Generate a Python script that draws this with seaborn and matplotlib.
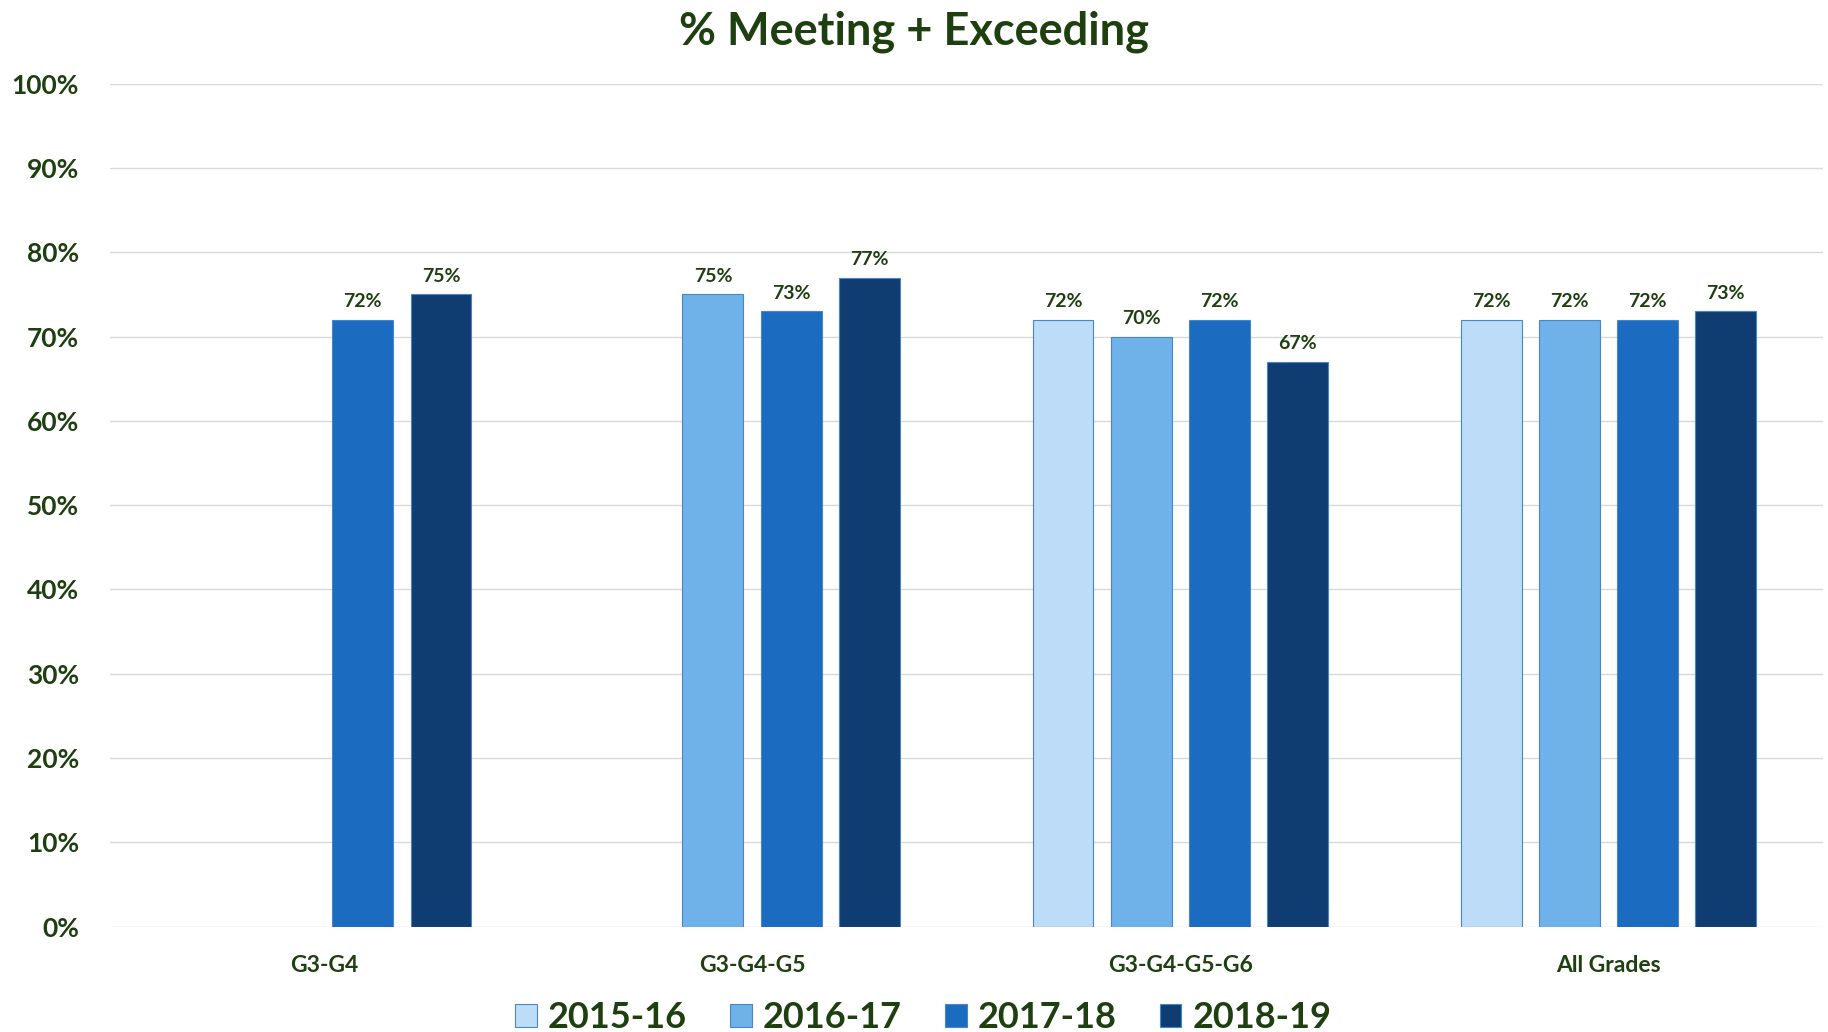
import numpy as np
import pandas as pd
import matplotlib
matplotlib.use('Agg')
import matplotlib.pyplot as plt
import seaborn as sb

# Chart values
groups = ['G3-G4', 'G3-G4-G5', 'G3-G4-G5-G6', 'All Grades']
years = ['2015-16', '2016-17', '2017-18', '2018-19']
pct_2015_16 = [np.nan, np.nan, 72, 72]
pct_2016_17 = [np.nan, 75, 70, 72]
pct_2017_18 = [72, 73, 72, 72]
pct_2018_19 = [75, 77, 67, 73]

year_colors = ['#bcdcf7', '#6fb2ea', '#1b6cc0', '#0f3d72']
green = '#1e3f10'

# Long table for seaborn
df = pd.DataFrame({'group': groups * 4,
                   'year': np.repeat(years, 4),
                   'pct': pct_2015_16 + pct_2016_17 + pct_2017_18 + pct_2018_19})

sb.set_style('white')
plt.rcParams['font.family'] = ['Lato', 'DejaVu Sans']

fig = plt.figure(figsize=(18.28, 10.32), dpi=100)
ax = fig.add_axes([0.060, 0.102, 0.937, 0.817])

sb.barplot(data=df, x='group', y='pct', hue='year', order=groups, hue_order=years,
           palette=year_colors, saturation=1, width=0.73, gap=0.22, ax=ax, legend=True,
           edgecolor='#4a86c5', linewidth=0.8)

for c in ax.containers:
    ax.bar_label(c, fmt='{:.0f}%', padding=7, fontsize=14, fontweight='bold', color=green)

ax.set_ylim(0, 100)
ax.set_xlim(-0.5, 3.5)
ax.set_yticks(range(0, 101, 10))
ax.set_yticklabels([f'{v}%' for v in range(0, 101, 10)])
ax.yaxis.grid(True, color='#d9d9d9', linewidth=1)
ax.set_axisbelow(True)
for s in ax.spines.values():
    s.set_visible(False)
ax.tick_params(axis='y', labelsize=19, labelcolor=green, length=0, pad=22)
ax.tick_params(axis='x', labelsize=16.5, labelcolor=green, length=0, pad=20)
for t in ax.get_xticklabels() + ax.get_yticklabels():
    t.set_fontweight('bold')
ax.set_xlabel('')
ax.set_ylabel('')

fig.suptitle('% Meeting + Exceeding', y=0.99, fontsize=32.5, fontweight='bold', color=green)

ax.legend_.remove()
leg = fig.legend(*ax.get_legend_handles_labels(), loc='center', bbox_to_anchor=(0.505, 0.014),
                 ncol=4, frameon=False, fontsize=26, handlelength=0.6, handleheight=0.6,
                 handletextpad=0.3, columnspacing=1.2)
for t in leg.get_texts():
    t.set_fontweight('bold')
    t.set_color(green)

fig.savefig('out.png', dpi=100)
